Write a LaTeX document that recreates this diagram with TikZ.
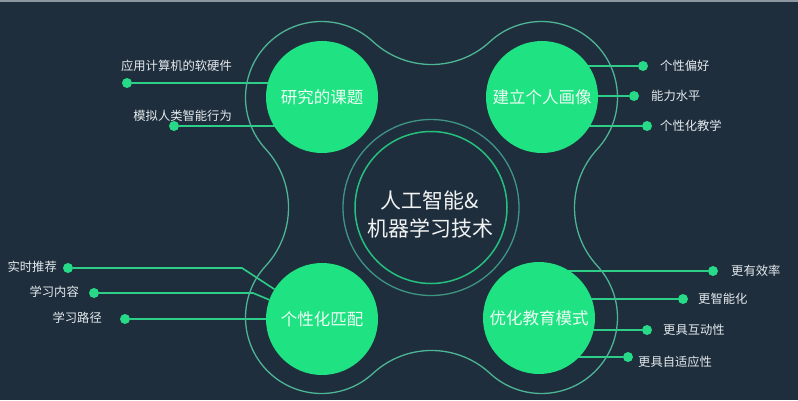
\documentclass[tikz,border=0pt]{standalone}
\usepackage{fontspec}
\setmainfont{Noto Sans CJK SC}
\pgfdeclarelayer{bg}
\pgfdeclarelayer{lines}
\pgfsetlayers{bg,lines,main}
\definecolor{bgc}{HTML}{1F2E3C}
\definecolor{topstrip}{HTML}{8E979F}
\definecolor{outl}{HTML}{4DB496}
\definecolor{ringin}{HTML}{25C07E}
\definecolor{ringout}{HTML}{3E9583}
\definecolor{bubble}{HTML}{1FE382}
\definecolor{conn}{HTML}{2DCF88}
\definecolor{dotc}{HTML}{27DA88}
\definecolor{labc}{HTML}{E4EAEE}
\tikzset{
  bubblenode/.style={circle, fill=bubble, minimum size=112pt, inner sep=0pt, outer sep=0pt,
    text=white!92!bubble, font=\fontsize{16.5}{18}\selectfont},
  dotnode/.style={circle, fill=dotc, minimum size=10pt, inner sep=0pt, outer sep=0pt},
  labl/.style={text=labc, inner sep=0pt, font=\fontsize{12.3}{14}\selectfont},
  connline/.style={draw=conn, line width=1.6pt},
}
\begin{document}
\begin{tikzpicture}[x=1pt,y=-1pt]
\begin{pgfonlayer}{bg}
\fill[bgc] (0,0) rectangle (798,400);
\fill[topstrip] (0,0) rectangle (798,1.6);
\end{pgfonlayer}
\useasboundingbox (0,0) rectangle (798,400);

% outline blob
\begin{scope}[shift={(431.5,207.5)}, y=1pt]
\draw[outl, line width=1.3pt]
  (-58.45,165.85)
  arc[start angle=47.3, end angle=222.7, radius=76]
  arc[start angle=42.7, end angle=-42.7, radius=86.2]
  arc[start angle=137.3, end angle=312.7, radius=76]
  arc[start angle=132.7, end angle=47.3, radius=86.2]
  arc[start angle=227.3, end angle=402.7, radius=76]
  arc[start angle=222.7, end angle=137.3, radius=86.2]
  arc[start angle=-42.7, end angle=132.7, radius=76]
  arc[start angle=-47.3, end angle=-132.7, radius=86.2]
  -- cycle;
\end{scope}

% centre rings and title
\node[circle, draw=ringout, line width=1.3pt, minimum size=176pt, inner sep=0pt] (ringo) at (431,207.5) {};
\node[circle, draw=ringin, line width=1.5pt, minimum size=152pt, inner sep=0pt] (ringi) at (431,207.5) {};
\node[text=white!94!bgc, font=\fontsize{21}{28}\selectfont, align=center, inner sep=0pt] (title) at (430,214) {人工智能\&\\机器学习技术};

% bubbles
\node[bubblenode] (tl) at (322,97) {研究的课题};
\node[bubblenode] (tr) at (542,97) {建立个人画像};
\node[bubblenode] (bl) at (322,319) {个性化匹配};
\node[bubblenode] (br) at (539,318) {优化教育模式};

% dots
\node[dotnode] (a1) at (127,83) {};
\node[dotnode] (a2) at (174,126) {};
\node[dotnode] (b1) at (643,66) {};
\node[dotnode] (b2) at (634,96) {};
\node[dotnode] (b3) at (647,126) {};
\node[dotnode] (c1) at (68,268) {};
\node[dotnode] (c2) at (94,293) {};
\node[dotnode] (c3) at (125,319) {};
\node[dotnode] (e1) at (713,271) {};
\node[dotnode] (e2) at (683,299) {};
\node[dotnode] (e3) at (647,330) {};
\node[dotnode] (e4) at (628,357) {};
\coordinate (k1) at (242,268);
\coordinate (k2) at (253,293);

% connectors
\begin{pgfonlayer}{lines}
\draw[connline] (a1) -- (a1 -| tl);
\draw[connline] (a2) -- (a2 -| tl);
\draw[connline] (b1) -- (b1 -| tr);
\draw[connline] (b2) -- (b2 -| tr);
\draw[connline] (b3) -- (b3 -| tr);
\draw[connline] (c1) -- (k1) -- (bl.148);
\draw[connline] (c2) -- (k2) -- (bl.160);
\draw[connline] (c3) -- (c3 -| bl);
\draw[connline] (e1) -- (e1 -| br);
\draw[connline] (e2) -- (e2 -| br);
\draw[connline] (e3) -- (e3 -| br);
\draw[connline] (e4) -- (e4 -| br);
\end{pgfonlayer}

% labels
\node[labl, anchor=east] (la1) at (232,66) {应用计算机的软硬件};
\node[labl, anchor=east] (la2) at (232,116) {模拟人类智能行为};
\node[labl, anchor=west] (lb1) at (660,66) {个性偏好};
\node[labl, anchor=west] (lb2) at (651,96) {能力水平};
\node[labl, anchor=west] (lb3) at (660,126) {个性化教学};
\node[labl, anchor=east] (lc1) at (57,267) {实时推荐};
\node[labl, anchor=east] (lc2) at (79,292) {学习内容};
\node[labl, anchor=east] (lc3) at (102,318) {学习路径};
\node[labl, anchor=west] (le1) at (731,271) {更有效率};
\node[labl, anchor=west] (le2) at (698,299) {更智能化};
\node[labl, anchor=west] (le3) at (663,330) {更具互动性};
\node[labl, anchor=west] (le4) at (638,362) {更具自适应性};
\end{tikzpicture}
\end{document}
